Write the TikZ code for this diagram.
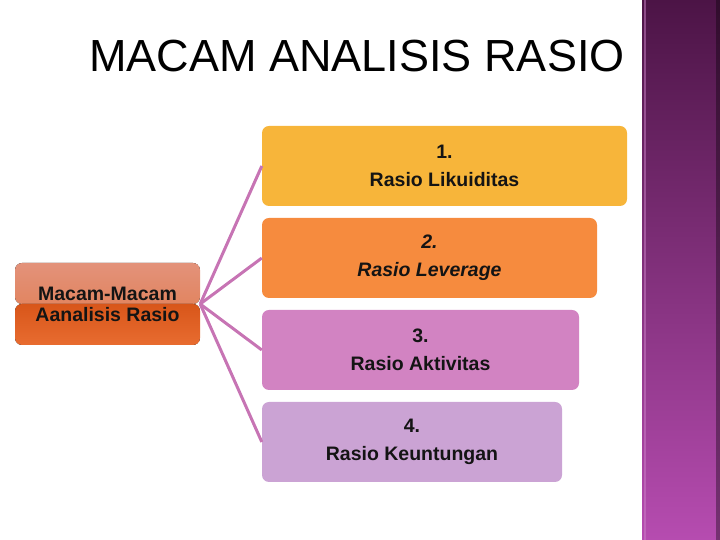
\documentclass[tikz,border=0pt]{standalone}
\usepackage{fontspec}
\setmainfont{Liberation Sans}
\usepackage{xcolor}
\usetikzlibrary{positioning}
\definecolor{rasioGold}{HTML}{F7B53A}
\definecolor{rasioOrange}{HTML}{F68B3E}
\definecolor{rasioPink}{HTML}{D283C2}
\definecolor{rasioLilac}{HTML}{CBA3D4}
\definecolor{rasioSpoke}{HTML}{C774B4}
\definecolor{rasioHubTop}{HTML}{E3927A}
\definecolor{rasioHubMid}{HTML}{E07848}
\definecolor{rasioHubLow}{HTML}{D8561A}
\definecolor{rasioHubBot}{HTML}{E86C30}
\definecolor{rasioBarTop}{HTML}{4C1446}
\definecolor{rasioBarBot}{HTML}{B64CB0}
\definecolor{rasioText}{HTML}{141414}

\begin{document}
\begin{tikzpicture}[x=1pt,y=1pt,font=\bfseries]
  \tikzset{
    item/.style={rectangle,rounded corners=7pt,minimum height=80pt,inner sep=0pt,align=center,text=rasioText,
      font=\fontsize{19.5}{28}\selectfont\bfseries},
    hub/.style={rectangle,rounded corners=7pt,minimum width=185pt,minimum height=82pt,inner sep=0pt,align=center,
      text=rasioText,font=\fontsize{19.5}{21}\selectfont\bfseries},
    spoke/.style={draw=rasioSpoke,line width=3pt}
  }
  \useasboundingbox (0,0) rectangle (720,540);
  % side bar
  \fill[top color=rasioBarTop,bottom color=rasioBarBot] (642,0) rectangle (720,540);
  \draw[rasioBarBot!70!white,opacity=.5,line width=1.5pt] (645,0) -- (645,540);
  \fill[black,opacity=.35] (716,0) rectangle (720,540);
  \node[font=\fontsize{45}{50}\selectfont,anchor=base] (title) at (357,468) {MACAM ANALISIS RASIO};
  \node[hub,path picture={
      \fill[top color=rasioHubTop,bottom color=rasioHubMid] (path picture bounding box.north west) rectangle (path picture bounding box.east);
      \fill[top color=rasioHubLow,bottom color=rasioHubBot] (path picture bounding box.west) rectangle (path picture bounding box.south east);
    }] (hub) at (107.5,236) {Macam-Macam\\Aanalisis Rasio};
  \node[item,fill=rasioGold,minimum width=365pt] (likuid) at (444.5,374) {1.\\Rasio Likuiditas};
  \node[item,fill=rasioOrange,minimum width=335pt] (lever) at (429.5,282) {\itshape 2.\\\itshape Rasio Leverage};
  \node[item,fill=rasioPink,minimum width=317pt] (aktiv) at (420.5,190) {3.\\Rasio Aktivitas};
  \node[item,fill=rasioLilac,minimum width=300pt] (untung) at (412,98) {4.\\Rasio Keuntungan};
  \foreach \n in {likuid,lever,aktiv,untung}
    \draw[spoke] (hub.east) -- (\n.west);
\end{tikzpicture}
\end{document}
